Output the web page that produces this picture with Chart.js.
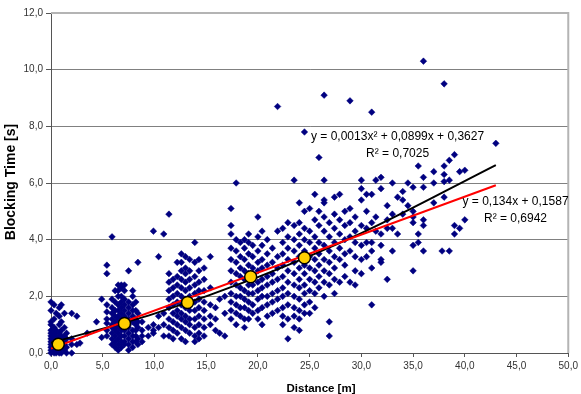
<!DOCTYPE html>
<html>
<head>
<meta charset="utf-8">
<script src="https://cdn.jsdelivr.net/npm/chart.js@4/dist/chart.umd.min.js"></script>
<style>
  html, body { margin: 0; padding: 0; background: #fff; }
  #wrap { width: 581px; height: 394px; }
</style>
</head>
<body>
<div id="wrap"><canvas id="blockingChart" width="581" height="394"></canvas></div>
<script>
// --- DATA ---
// distance columns (m) and the blocking times (s) measured in each column
const distCols = [
  0.0, 0.3, 0.5, 0.8, 1.0, 1.3, 1.5, 2.0, 2.5, 2.8, 3.5, 4.4, 4.9,
  5.4, 5.9, 6.2, 6.5, 6.8, 7.1, 7.5, 7.9, 8.2, 8.4, 8.8, 9.4, 9.9, 10.4, 10.9,
  11.4, 11.8, 12.2, 12.6, 13.0, 13.4, 13.9, 14.3, 14.8, 15.4, 15.9, 16.3, 16.8,
  17.4, 17.9, 18.3, 18.7, 19.1, 19.5, 20.0, 20.4, 20.9, 21.4, 21.9,
  22.4, 22.9, 23.5, 24.0, 24.5, 25.0, 25.5, 25.9, 26.4, 26.9, 27.4,
  27.9, 28.4, 28.9, 29.4, 30.0, 30.5, 31.0, 31.4, 31.9, 32.5, 33.0, 33.5,
  34.0, 34.5, 35.0, 35.5, 36.0, 37.0, 37.8, 38.0, 38.5, 39.0, 39.5, 40.0, 43.0
];
const timeCols = [
  [0.0, 0.1, 0.2, 0.3, 0.4, 0.5, 0.6, 0.7, 0.8, 1.0, 1.1, 1.5, 1.8],
  [0.0, 0.1, 0.2, 0.3, 0.4, 0.5, 0.6, 0.7, 0.9, 1.2, 1.7],
  [0.0, 0.2, 0.3, 0.4, 0.5, 0.6, 0.8, 1.4],
  [0.0, 0.1, 0.3, 0.5, 0.6, 0.7, 1.0, 1.3, 1.6],
  [0.0, 0.2, 0.4, 0.5, 0.6, 0.8, 1.1, 1.7],
  [0.1, 0.3, 0.4, 0.6, 0.9, 1.4],
  [0.0, 0.2, 0.5, 0.7],
  [0.0, 0.3, 0.5, 1.4],
  [0.3, 1.3],
  [0.35],
  [0.7],
  [1.1],
  [1.9, 0.55],
  [3.1, 2.8, 1.7, 1.45, 1.2, 1.05, 0.8, 0.6],
  [4.1, 1.9, 1.6, 1.4, 1.2, 1.0, 0.9, 0.7, 0.5, 0.3],
  [2.2, 1.8, 1.5, 1.3, 1.1, 0.9, 0.8, 0.6, 0.4, 0.2],
  [2.4, 2.2, 2.0, 1.7, 1.5, 1.3, 1.2, 1.0, 0.9, 0.7, 0.5, 0.3, 0.1],
  [2.4, 2.3, 2.0, 1.8, 1.6, 1.4, 1.2, 1.1, 0.9, 0.8, 0.6, 0.4, 0.2],
  [2.4, 2.2, 1.9, 1.7, 1.5, 1.3, 1.0, 0.8, 0.6, 0.4, 0.3],
  [2.9, 1.8, 1.6, 1.4, 1.2, 1.0, 0.9, 0.7, 0.5, 0.3, 0.1],
  [2.2, 2.0, 1.7, 1.5, 1.3, 1.1, 0.8, 0.6, 0.4, 0.2],
  [1.8, 1.5, 1.2, 1.0, 0.8, 0.6, 0.4],
  [3.2, 1.4, 1.1, 0.9, 0.5, 0.3],
  [1.1, 0.8, 0.6, 0.4],
  [0.9, 0.6],
  [4.3, 1.0, 0.8, 0.7],
  [3.4, 1.3, 0.9],
  [4.2, 1.4, 1.0, 0.6],
  [4.9, 2.8, 2.5, 2.2, 1.9, 1.6, 1.2, 0.9, 0.6],
  [2.6, 2.3, 2.0, 1.7, 1.4, 1.1, 0.8, 0.5],
  [3.2, 2.7, 2.4, 2.1, 1.8, 1.5, 1.3, 1.0, 0.7],
  [3.5, 3.2, 2.9, 2.6, 2.3, 2.0, 1.7, 1.4, 1.2, 0.9, 0.5],
  [3.4, 3.0, 2.8, 2.5, 2.2, 1.9, 1.6, 1.3, 1.1, 0.8, 0.4],
  [3.3, 2.9, 2.6, 2.3, 2.0, 1.7, 1.5, 1.2, 1.0, 0.7],
  [3.9, 3.2, 2.7, 2.4, 2.1, 1.8, 1.5, 1.2, 0.9, 0.6, 0.4],
  [3.3, 2.9, 2.5, 2.2, 1.9, 1.6, 1.3, 1.0, 0.7, 0.5],
  [3.0, 2.6, 2.2, 1.8, 1.5, 1.2, 0.9, 0.6],
  [3.4, 2.3, 1.7, 1.3, 1.0],
  [1.6, 1.2, 0.8],
  [1.9, 0.7],
  [2.0, 1.4, 0.6],
  [5.1, 4.5, 4.2, 3.7, 3.3, 2.9, 2.5, 2.1, 1.8, 1.5, 1.2],
  [6.0, 4.0, 3.6, 3.2, 2.8, 2.4, 2.0, 1.7, 1.4, 1.0],
  [3.9, 3.4, 3.0, 2.7, 2.3, 2.0, 1.6, 1.3],
  [4.0, 3.7, 3.3, 2.9, 2.6, 2.2, 1.9, 1.6, 1.2, 0.9],
  [4.2, 3.9, 3.5, 3.1, 2.8, 2.4, 2.1, 1.8, 1.5, 1.2],
  [3.8, 3.4, 3.0, 2.7, 2.4, 2.1, 1.7, 1.4],
  [4.8, 4.1, 3.6, 3.2, 2.9, 2.5, 2.2, 1.9, 1.5, 1.2],
  [4.3, 3.8, 3.3, 3.0, 2.6, 2.3, 2.0, 1.6, 1.0],
  [4.0, 3.5, 3.1, 2.7, 2.4, 2.0, 1.7, 1.3],
  [3.7, 3.2, 2.8, 2.5, 2.1, 1.8, 1.4],
  [8.7, 4.3, 3.4, 3.0, 2.6, 2.2, 1.9, 1.5],
  [4.4, 3.9, 3.5, 3.1, 2.7, 2.3, 2.0, 1.6, 1.3, 1.0],
  [4.6, 4.1, 3.7, 3.3, 2.9, 2.5, 2.1, 1.7, 1.2, 0.5],
  [6.1, 4.5, 4.0, 3.6, 3.2, 2.8, 2.4, 2.0, 1.6, 1.3, 0.9],
  [5.3, 4.6, 4.2, 3.8, 3.4, 3.0, 2.6, 2.3, 1.9, 1.5, 1.2, 0.8],
  [7.8, 5.0, 4.4, 4.0, 3.6, 3.1, 2.8, 2.4, 2.1, 1.7, 1.4],
  [5.1, 4.3, 3.9, 3.4, 3.0, 2.6, 2.2, 1.8, 1.4],
  [5.6, 4.7, 4.1, 3.7, 3.3, 2.9, 2.5, 2.1, 1.6],
  [6.9, 5.0, 4.5, 3.9, 3.5, 3.1, 2.7, 2.3],
  [9.1, 6.1, 5.4, 5.3, 4.8, 4.3, 3.8, 3.3, 2.9, 2.5, 2.0],
  [4.6, 4.1, 3.6, 3.2, 2.8, 2.4, 1.1, 0.6],
  [5.5, 4.9, 4.4, 3.9, 3.4, 3.0, 2.6, 2.1],
  [5.6, 4.7, 4.2, 3.7, 3.3, 2.5],
  [5.0, 4.5, 4.0, 3.5, 3.1, 2.7],
  [8.9, 5.1, 4.6, 4.1, 3.6, 2.5],
  [4.8, 4.3, 3.9, 3.4, 2.9, 2.4],
  [6.1, 5.8, 5.4, 4.5, 3.8, 3.3, 2.8],
  [5.6, 5.0, 4.4, 3.9, 3.4],
  [8.5, 5.6, 4.6, 3.9, 3.6, 3.0, 1.7],
  [6.1, 4.8, 4.3],
  [6.2, 5.8, 4.2, 3.8, 3.3, 3.2],
  [5.2, 4.7, 4.4, 2.6],
  [6.0, 4.9, 4.4, 3.6],
  [5.5, 4.2],
  [5.7, 5.4, 4.9],
  [6.0, 5.2],
  [5.85, 5.0, 4.8, 4.6, 3.8, 2.9],
  [6.6, 4.2, 3.9],
  [10.3, 6.2, 5.85, 4.7, 4.5, 3.6],
  [6.4, 6.0, 5.3],
  [3.6],
  [9.5, 6.6, 6.3, 6.05, 5.5],
  [6.8, 6.1, 3.6],
  [7.0, 4.5, 4.2],
  [6.4, 4.4],
  [6.45, 4.7],
  [7.4]
];

// class means (yellow dots)
const meanDist = [0.7, 7.1, 13.2, 19.3, 24.5];
const meanTime = [0.31, 1.04, 1.78, 2.69, 3.36];

// trend lines
const polyDist = [0, 10, 20, 30, 43];
const polyTime = [0.36, 1.39, 2.68, 4.23, 6.63];
const linDist = [0, 43];
const linTime = [0.16, 5.92];

const polyLabel = ['y = 0,0013x\u00B2 + 0,0899x + 0,3627', 'R\u00B2 = 0,7025'];
const linLabel = ['y = 0,134x + 0,1587', 'R\u00B2 = 0,6942'];

// --- BUILD POINTS ---
const scatterPts = [];
distCols.forEach((d, i) => {
  timeCols[i].forEach(t => scatterPts.push({ x: d, y: t }));
});
const toPts = (xs, ys) => xs.map((x, i) => ({ x: x, y: ys[i] }));

const FONT = "Arial, 'Liberation Sans', sans-serif";
const fmt = v => v.toFixed(1).replace('.', ',');

// frame, titles and regression labels
const extrasPlugin = {
  id: 'extras',
  beforeDatasetsDraw(chart) {
    const { ctx, chartArea } = chart;
    ctx.save();
    ctx.strokeStyle = '#b4b4b4';
    ctx.lineWidth = 2;
    ctx.beginPath();
    ctx.moveTo(chartArea.left, chartArea.top);
    ctx.lineTo(chartArea.right, chartArea.top);
    ctx.lineTo(chartArea.right, chartArea.bottom);
    ctx.stroke();
    ctx.restore();
  },
  afterDraw(chart) {
    const { ctx, scales } = chart;
    const xs = scales.x, ys = scales.y;
    ctx.save();
    ctx.fillStyle = '#000';
    ctx.textAlign = 'center';
    ctx.textBaseline = 'alphabetic';

    ctx.font = '12px ' + FONT;
    ctx.fillText(polyLabel[0], xs.getPixelForValue(33.5), ys.getPixelForValue(7.52));
    ctx.fillText(polyLabel[1], xs.getPixelForValue(33.5), ys.getPixelForValue(6.92));
    ctx.fillText(linLabel[0], xs.getPixelForValue(44.9), ys.getPixelForValue(5.22));
    ctx.fillText(linLabel[1], xs.getPixelForValue(44.9), ys.getPixelForValue(4.62));

    // axis titles
    ctx.font = 'bold 11.5px ' + FONT;
    ctx.fillText('Distance [m]', 321, 392);
    ctx.translate(14.5, 182);
    ctx.rotate(-Math.PI / 2);
    ctx.font = 'bold 14px ' + FONT;
    ctx.fillText('Blocking Time [s]', 0, 0);
    ctx.restore();
  }
};

new Chart(document.getElementById('blockingChart'), {
  type: 'scatter',
  data: {
    datasets: [
      {
        label: 'means',
        data: toPts(meanDist, meanTime),
        pointStyle: 'circle',
        pointRadius: 6,
        backgroundColor: '#FFD000',
        borderColor: '#000',
        borderWidth: 1.5,
        showLine: false,
        order: 0
      },
      {
        label: 'linear',
        data: toPts(linDist, linTime),
        showLine: true,
        borderColor: '#ff0000',
        borderWidth: 2,
        pointRadius: 0,
        order: 1
      },
      {
        label: 'poly',
        data: toPts(polyDist, polyTime),
        showLine: true,
        borderColor: '#000',
        borderWidth: 2,
        pointRadius: 0,
        cubicInterpolationMode: 'monotone',
        order: 2
      },
      {
        label: 'measurements',
        data: scatterPts,
        pointStyle: 'rectRot',
        pointRadius: 3.3,
        backgroundColor: '#000080',
        borderColor: '#000080',
        borderWidth: 0.5,
        clip: false,
        order: 3
      }
    ]
  },
  options: {
    responsive: false,
    animation: false,
    layout: { padding: { top: 13, right: 12, left: 0, bottom: 0 } },
    plugins: { legend: { display: false }, tooltip: { enabled: false } },
    scales: {
      x: {
        type: 'linear',
        position: 'bottom',
        min: 0,
        max: 50,
        afterFit: s => { s.height = 41; },
        ticks: { stepSize: 5, callback: fmt, color: '#333', padding: 3, maxRotation: 0,
                 font: { family: FONT, size: 10 } },
        grid: { drawOnChartArea: false, drawTicks: true, tickLength: 4, tickColor: '#555' },
        border: { color: '#555', width: 1 }
      },
      y: {
        min: 0,
        max: 12,
        afterFit: s => { s.width = 51; },
        ticks: { stepSize: 2, callback: fmt, color: '#333', padding: 3,
                 font: { family: FONT, size: 10 } },
        grid: {
          color: c => (c.tick && c.tick.value === 12) ? 'rgba(0,0,0,0)' : '#808080',
          tickColor: '#555',
          tickLength: 5
        },
        border: { color: '#555', width: 1 }
      }
    }
  },
  plugins: [extrasPlugin]
});
</script>
</body>
</html>
